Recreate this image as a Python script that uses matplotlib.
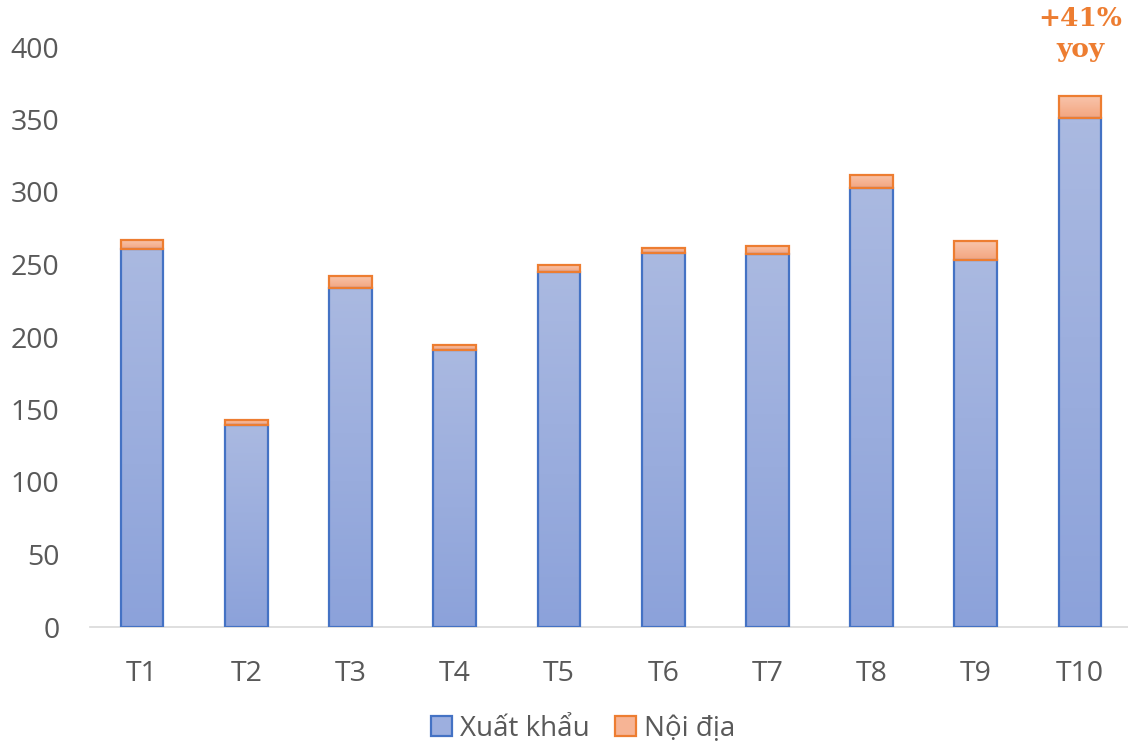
import matplotlib.pyplot as plt
import numpy as np
from matplotlib.colors import LinearSegmentedColormap

months = ['T1', 'T2', 'T3', 'T4', 'T5', 'T6', 'T7', 'T8', 'T9', 'T10']
xuat_khau = [261, 139, 234, 191, 245, 258, 257, 303, 253, 351]
noi_dia = [6, 3.5, 8, 3.5, 4.5, 3.5, 6, 9, 13, 15]

plt.rcParams['font.family'] = ['Open Sans', 'DejaVu Sans']

fig = plt.figure(figsize=(11.28, 7.45), dpi=100)
ax = fig.add_axes([90 / 1128, 118 / 745, 1038 / 1128, 580 / 745])

x = np.arange(len(months))
w = 0.41
b1 = ax.bar(x, xuat_khau, w, color='#9DAFDF', edgecolor='#4472C4', linewidth=1.6,
            label='Xuất khẩu', zorder=3)
b2 = ax.bar(x, noi_dia, w, bottom=xuat_khau, color='#F6B495', edgecolor='#ED7D31',
            linewidth=1.6, label='Nội địa', zorder=3)

# gradient fill inside bars
blue_cm = LinearSegmentedColormap.from_list('b', ['#8CA2DA', '#AAB9E1'])
orng_cm = LinearSegmentedColormap.from_list('o', ['#F4A57F', '#F8C4AB'])
grad = np.linspace(0, 1, 100).reshape(-1, 1)
for bars, cm in ((b1, blue_cm), (b2, orng_cm)):
    for p in bars:
        x0, y0 = p.get_x(), p.get_y()
        im = ax.imshow(grad, cmap=cm, aspect='auto', origin='lower',
                       extent=(x0, x0 + p.get_width(), y0, y0 + p.get_height()),
                       zorder=3.5)
        im.set_clip_path(p)
        p.set_facecolor('none')
        p.set_zorder(4)

ax.set_xlim(-0.5, 9.46)
ax.set_ylim(0, 400)
ax.set_yticks(range(0, 401, 50))
ax.set_xticks(x)
ax.set_xticklabels(months)
ax.tick_params(axis='both', length=0, labelsize=20.5, labelcolor='#595959')
ax.tick_params(axis='x', pad=24)
ax.tick_params(axis='y', pad=22)
for s in ['top', 'right', 'left']:
    ax.spines[s].set_visible(False)
ax.spines['bottom'].set_color('#D9D9D9')
ax.spines['bottom'].set_linewidth(1.2)

fig.text(1080 / 1128, 1 - 18 / 745, '+41%', ha='center', va='center', fontsize=19,
         fontweight='bold', color='#ED7D31', family=['DejaVu Serif'])
fig.text(1080 / 1128, 1 - 50 / 745, 'yoy', ha='center', va='center', fontsize=19,
         fontweight='bold', color='#ED7D31', family=['DejaVu Serif'])

leg = fig.legend(handles=[b1, b2], loc='center',
                 bbox_to_anchor=(0.5 + 19 / 1128, 1 - 729 / 745),
                 ncol=2, frameon=False, fontsize=20, handlelength=0.75, handleheight=0.75,
                 handletextpad=0.3, columnspacing=0.9)
for t in leg.get_texts():
    t.set_color('#595959')
for h, c in zip(leg.legend_handles, ['#9DAFDF', '#F6B495']):
    h.set_facecolor(c)

fig.savefig('out.png', dpi=100)
